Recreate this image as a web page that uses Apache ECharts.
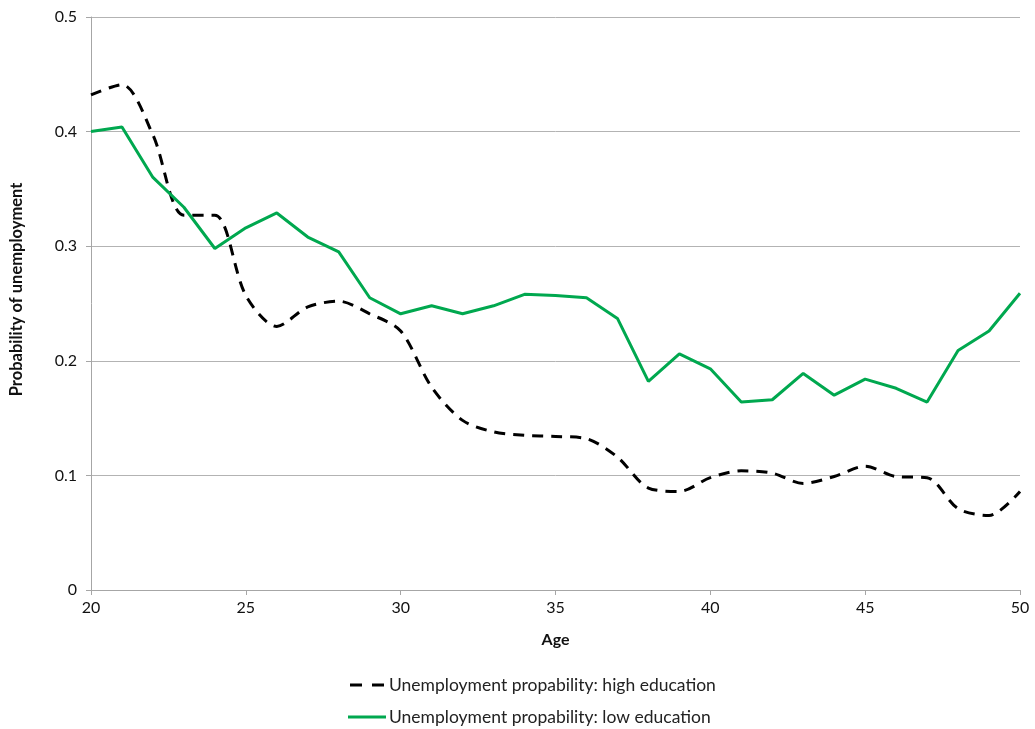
<!DOCTYPE html>
<html>
<head>
<meta charset="utf-8">
<script src="https://cdn.jsdelivr.net/npm/echarts@6/dist/echarts.min.js"></script>
<style>
    html, body { margin: 0; padding: 0; background: #fff; }
    #chart { width: 1035px; height: 729px; }
</style>
</head>
<body>
<div id="chart"></div>
<script>
    // ages 20..50
    var ages = [20, 21, 22, 23, 24, 25, 26, 27, 28, 29, 30, 31, 32, 33, 34, 35,
                36, 37, 38, 39, 40, 41, 42, 43, 44, 45, 46, 47, 48, 49, 50];
    var highEdu = [0.432, 0.441, 0.397, 0.327, 0.327, 0.257, 0.230, 0.247, 0.252, 0.241, 0.226,
                   0.177, 0.148, 0.138, 0.135, 0.134, 0.132, 0.116, 0.089, 0.086, 0.098,
                   0.104, 0.102, 0.093, 0.099, 0.108, 0.099, 0.098, 0.071, 0.065, 0.086];
    var lowEdu = [0.400, 0.404, 0.360, 0.334, 0.298, 0.316, 0.329, 0.308, 0.295, 0.255, 0.241,
                  0.248, 0.241, 0.248, 0.258, 0.257, 0.255, 0.237, 0.182, 0.206, 0.193,
                  0.164, 0.166, 0.189, 0.170, 0.184, 0.176, 0.164, 0.209, 0.226, 0.259];
    var seriesNames = ['Unemployment propability: high education', 'Unemployment propability: low education'];

    function pairs(vals) {
        var out = [];
        for (var i = 0; i < ages.length; i++) out.push([ages[i], vals[i]]);
        return out;
    }

    var font = 'Lato, "Open Sans", sans-serif';
    var chart = echarts.init(document.getElementById('chart'));
    chart.setOption({
        animation: false,
        textStyle: { fontFamily: font },
        grid: { left: 91, right: 15, top: 17, bottom: 139 },
        legend: {
            orient: 'vertical',
            left: 348,
            top: 676,
            height: 53,
            padding: 0,
            itemGap: 14,
            itemWidth: 38,
            itemHeight: 3,
            textStyle: { fontSize: 17.5, color: '#222', fontFamily: font, padding: [0, 0, 0, -2] },
            data: [
                { name: seriesNames[0], icon: 'path://M2,0 L14,0 L14,3 L2,3 Z M24,0 L36,0 L36,3 L24,3 Z' },
                { name: seriesNames[1], icon: 'rect' }
            ]
        },
        xAxis: {
            type: 'value',
            min: 20, max: 50, interval: 5,
            name: 'Age',
            nameLocation: 'middle',
            nameGap: 42,
            nameTextStyle: { fontWeight: 'bold', fontSize: 16, color: '#111' },
            axisLine: { lineStyle: { color: '#a6a6a6' } },
            axisTick: { show: true, length: 5, lineStyle: { color: '#a6a6a6' } },
            axisLabel: { fontSize: 16, color: '#111', margin: 10 },
            splitLine: { show: false }
        },
        yAxis: {
            type: 'value',
            min: 0, max: 0.5, interval: 0.1,
            name: 'Probability of unemployment',
            nameLocation: 'middle',
            nameGap: 66,
            nameTextStyle: { fontWeight: 'bold', fontSize: 16.5, color: '#111', padding: [0, 0, 0, 28] },
            axisLine: { show: true, lineStyle: { color: '#a6a6a6' } },
            axisTick: { show: true, length: 5, lineStyle: { color: '#a6a6a6' } },
            axisLabel: { fontSize: 16, color: '#111', margin: 14 },
            splitLine: { lineStyle: { color: '#b3b3b3', width: 1 } }
        },
        series: [{
            name: seriesNames[0],
            type: 'line',
            data: pairs(highEdu),
            smooth: 0.3,
            showSymbol: false,
            lineStyle: { color: '#000', width: 3, type: [11, 8] },
            itemStyle: { color: '#000' }
        }, {
            name: seriesNames[1],
            type: 'line',
            data: pairs(lowEdu),
            showSymbol: false,
            lineStyle: { color: '#00a84f', width: 3 },
            itemStyle: { color: '#00a84f' }
        }]
    });
</script>
</body>
</html>
